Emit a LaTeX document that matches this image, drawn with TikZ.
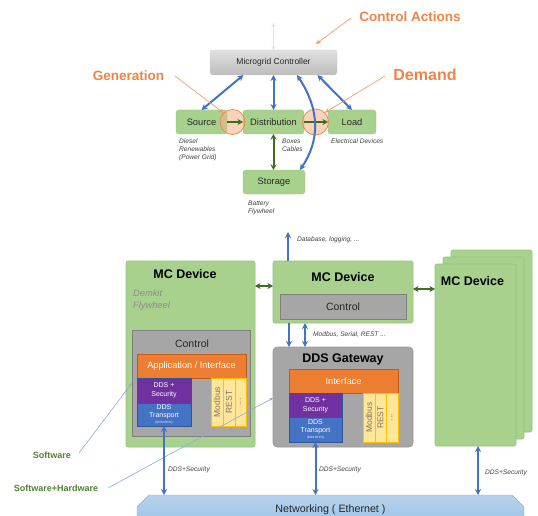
\documentclass[tikz,border=0pt]{standalone}
\usepackage{fontspec}
\setmainfont{Liberation Sans}
\usetikzlibrary{arrows.meta,shapes.misc}

\definecolor{gfill}{HTML}{A9D18E}
\definecolor{gdraw}{HTML}{93C47D}
\definecolor{grayfill}{HTML}{A6A6A6}
\definecolor{graydraw}{HTML}{7F7F7F}
\definecolor{orfill}{HTML}{ED7D31}
\definecolor{ordraw}{HTML}{C55A11}
\definecolor{purfill}{HTML}{7030A0}
\definecolor{blufill}{HTML}{4472C4}
\definecolor{bludraw}{HTML}{2F5597}
\definecolor{yelfill}{HTML}{FFE699}
\definecolor{yeldraw}{HTML}{FFC000}
\definecolor{yeltext}{HTML}{7F7560}
\definecolor{arrblue}{HTML}{4472C4}
\definecolor{arrgreen}{HTML}{3F6B22}
\definecolor{annorange}{HTML}{EE8547}
\definecolor{linkorange}{HTML}{F4B183}
\definecolor{hwgreen}{HTML}{548235}
\definecolor{faintblue}{HTML}{DAE3F3}
\definecolor{thinblue}{HTML}{8FAADC}
\definecolor{textdark}{HTML}{262626}
\definecolor{notegray}{HTML}{404040}
\definecolor{netdraw}{HTML}{9DC3E6}

\tikzset{
  box/.style={rectangle, inner sep=0pt, outer sep=0pt},
  greenbox/.style={box, fill=gfill, draw=gdraw, line width=0.6pt, rounded corners=2pt},
  graybox/.style={box, fill=grayfill, draw=graydraw, line width=0.6pt},
  orangebox/.style={box, fill=orfill, draw=ordraw, line width=0.5pt, text=white},
  purplebox/.style={box, fill=purfill, draw=bludraw, line width=0.5pt, text=white, align=center},
  bluebox/.style={box, fill=blufill, draw=bludraw, line width=0.5pt, text=white, align=center},
  yellowbox/.style={box, fill=yelfill, draw=yeldraw, line width=0.5pt, text=yeltext},
  flowbox/.style={box, fill=gfill, draw=gdraw, line width=0.4pt, rounded corners=3pt, text=textdark,
    font=\fontsize{9.3}{10}\selectfont},
  joint/.style={circle, inner sep=0pt, fill=linkorange, fill opacity=0.55, draw=annorange, line width=0.7pt},
  note/.style={font=\fontsize{6.6}{8}\itshape, text=notegray, align=left, inner sep=0pt},
  headline/.style={font=\fontsize{12.5}{14}\bfseries\selectfont, text=black, inner sep=0pt},
  annot/.style={font=\fontsize{13.5}{15}\bfseries\selectfont, text=annorange, inner sep=0pt},
  hwlabel/.style={font=\fontsize{9}{10}\bfseries\selectfont, text=hwgreen, inner sep=0pt},
  bluearr/.style={draw=arrblue, line width=2pt,
    {Stealth[length=6pt,width=6pt]}-{Stealth[length=6pt,width=6pt]}},
  bluetip/.style={draw=arrblue, line width=2pt, -{Stealth[length=6pt,width=6pt]}},
  greenarr/.style={draw=arrgreen, line width=2pt,
    {Stealth[length=5.5pt,width=6pt]}-{Stealth[length=5.5pt,width=6pt]}},
  greentip/.style={draw=arrgreen, line width=2pt, -{Stealth[length=5.5pt,width=6pt]}},
  orangetip/.style={draw=annorange!80, line width=0.7pt, -{Stealth[length=5pt,width=4.5pt]}},
  thintip/.style={draw=thinblue, line width=0.6pt, -{Stealth[length=3.5pt,width=3pt]}},
}

\begin{document}
\begin{tikzpicture}[x=1pt,y=-1pt]
\useasboundingbox[fill=white] (0,0) rectangle (538,516);

% ---------------- power flow overview ----------------
\node[box, rounded corners=3pt, top color=black!12, bottom color=black!26, draw=black!18,
      minimum width=127, minimum height=25, text=textdark,
      font=\fontsize{8.5}{10}\selectfont] (mgc) at (273.5,62.5) {Microgrid Controller};
\coordinate (mgcup) at (273.5,23);
\draw[draw=faintblue, line width=1.5pt,
      {Stealth[length=4pt,width=4pt]}-{Stealth[length=4pt,width=4pt]}] (mgc.north) -- (mgcup);

\node[flowbox, minimum width=51, minimum height=24] (src) at (201.5,122) {Source};
\node[flowbox, minimum width=61, minimum height=24] (dist) at (273.5,122) {Distribution};
\node[flowbox, minimum width=48, minimum height=24] (ld) at (352,122) {Load};
\node[flowbox, minimum width=62, minimum height=24] (sto) at (274,182) {Storage};

\node[joint, minimum size=25] (c1) at (232.5,122) {};
\node[joint, minimum size=26] (c2) at (315.5,122) {};

\draw[greentip] (src.east) -- (dist.west);
\draw[greentip] (dist.east) -- (ld.west);
\draw[greenarr] (dist.south) -- (sto.north -| dist.south);

\draw[bluearr] (src.north) -- ([xshift=-30]mgc.south);
\draw[bluearr] (dist.north) -- (dist.north |- mgc.south);
\draw[bluearr] (ld.north) -- ([xshift=44]mgc.south);
\draw[bluearr] ([xshift=23.5]mgc.south) .. controls (320,110) and (320,140) .. ([xshift=-5]sto.north east);

\node[note, anchor=north west] (srcnote) at (179,139) {Diesel\\Renewables\\(Power Grid)};
\node[note, anchor=north west] (distnote) at (282,139) {Boxes\\Cables};
\node[note, anchor=north west] (ldnote) at (331,139) {Electrical Devices};
\node[note, anchor=north west] (stonote) at (248,201) {Battery\\Flywheel};

\node[annot] (ctlact) at (410,17) {Control Actions};
\node[annot] (gen) at (128.5,76) {Generation};
\node[annot, font=\fontsize{16}{18}\bfseries\selectfont] (dem) at (425,75) {Demand};
\coordinate (ctlactA) at (351,18);
\coordinate (ctlactB) at (316,44);
\coordinate (genA) at (175,76);
\coordinate (demA) at (385,76);
\draw[orangetip] (ctlactA) -- (ctlactB);
\draw[orangetip] (genA) -- (c1.north west);
\draw[orangetip] (demA) -- (c2.north east);

% ---------------- device stack: green shells ----------------
\node[greenbox, minimum width=129, minimum height=186] (mc1) at (190.5,354) {};
\node[greenbox, minimum width=140, minimum height=62] (mc2) at (343,292) {};
\node[greenbox, minimum width=81, minimum height=182] (mc3c) at (491.5,341) {};
\node[greenbox, minimum width=81, minimum height=182] (mc3b) at (483.5,348) {};
\node[greenbox, minimum width=81, minimum height=182] (mc3f) at (475.5,355) {};

\node[headline] (mc1t) at (185,274) {MC Device};
\node[headline] (mc2t) at (343,277) {MC Device};
\node[headline] (mc3t) at (472.5,281) {MC Device};
\node[font=\fontsize{9.3}{12}\itshape, text=black!45, align=left, inner sep=0pt, anchor=west]
  (mc1note) at (133,300) {Demkit\\Flywheel};

% pointers from the side labels (pass under the gray blocks)
\node[hwlabel] (sw) at (52,455) {Software};
\node[hwlabel] (swhw) at (56,488) {Software+Hardware};
\coordinate (swA) at (79,453);
\coordinate (swhwA) at (108,488);

% ---------------- left device ----------------
\node[graybox, minimum width=118, minimum height=106] (ctl1) at (191,383) {};
\node[font=\fontsize{10.5}{12}\selectfont, text=textdark, inner sep=0pt] (ctl1t) at (192,344) {Control};
\node[orangebox, minimum width=109, minimum height=24, font=\fontsize{9.2}{10}\selectfont]
  (app1) at (191.5,366) {Application / Interface};
\node[purplebox, minimum width=54, minimum height=25, font=\fontsize{7}{9}\selectfont]
  (sec1) at (164,390.5) {DDS +\\Security};
\node[bluebox, minimum width=54, minimum height=23, font=\fontsize{7}{8}\selectfont]
  (dt1) at (164,414.5) {DDS\\Transport\\[-2pt]{\fontsize{3}{3}\selectfont (DDS RTPS)}};
\node[yellowbox, minimum width=12, minimum height=48] (mb1) at (217,402) {};
\node[yellowbox, minimum width=12, minimum height=48] (rs1) at (229,402) {};
\node[yellowbox, minimum width=11, minimum height=48] (dd1) at (240.5,402) {};
\node[rotate=90, text=yeltext, font=\fontsize{8.5}{9}\selectfont, inner sep=0pt] at (mb1.center) {Modbus};
\node[rotate=90, text=yeltext, font=\fontsize{8.5}{9}\selectfont, inner sep=0pt] at (rs1.center) {REST};
\node[rotate=90, text=yeltext, font=\fontsize{8.5}{9}\selectfont, inner sep=0pt] at (dd1.center) {...};

\draw[thintip] (swA) -- (ctl1.west);

% ---------------- middle device and gateway ----------------
\node[graybox, minimum width=126, minimum height=25, font=\fontsize{10.5}{12}\selectfont, text=textdark]
  (ctl2) at (343,306.5) {Control};

\draw[thintip] (swhwA) -- (273,398);

\node[box, fill=grayfill, draw=black!40, line width=0.6pt, rounded corners=4pt,
      minimum width=140, minimum height=100] (gw) at (343,397) {};
\node[headline] (gwt) at (343,359) {DDS Gateway};
\node[orangebox, minimum width=109, minimum height=24, font=\fontsize{9.2}{10}\selectfont]
  (app2) at (343.5,381) {Interface};
\node[purplebox, minimum width=53, minimum height=24, font=\fontsize{7}{9}\selectfont]
  (sec2) at (315.5,405) {DDS +\\Security};
\node[bluebox, minimum width=53, minimum height=25, font=\fontsize{7}{8}\selectfont]
  (dt2) at (315.5,429.5) {DDS\\Transport\\[-2pt]{\fontsize{3}{3}\selectfont (DDS RTPS)}};
\node[yellowbox, minimum width=12, minimum height=49] (mb2) at (369,417.5) {};
\node[yellowbox, minimum width=11, minimum height=49] (rs2) at (380.5,417.5) {};
\node[yellowbox, minimum width=12, minimum height=49] (dd2) at (392,417.5) {};
\node[rotate=90, text=yeltext, font=\fontsize{8.5}{9}\selectfont, inner sep=0pt] at (mb2.center) {Modbus};
\node[rotate=90, text=yeltext, font=\fontsize{8.5}{9}\selectfont, inner sep=0pt] at (rs2.center) {REST};
\node[rotate=90, text=yeltext, font=\fontsize{8.5}{9}\selectfont, inner sep=0pt] at (dd2.center) {...};

% ---------------- links between devices ----------------
\coordinate (lkA) at (0,286);
\coordinate (lkB) at (0,289);
\draw[greenarr] (mc1.east |- lkA) -- (mc2.west |- lkA);
\draw[greenarr] (mc2.east |- lkB) -- (mc3f.west |- lkB);

\coordinate (dbtop) at (288,232);
\draw[bluetip] ([xshift=-55]mc2.north) -- (dbtop);
\node[note, anchor=west] (dbnote) at (297,240) {Database, logging, ...};

\draw[bluetip] ([xshift=-54]mc2.south) -- ([xshift=-54]gw.north);
\draw[bluearr] ([xshift=-38]mc2.south) -- ([xshift=-38]gw.north);
\node[note, anchor=west] (busnote) at (313,335) {Modbus, Serial, REST ...};

% ---------------- network ----------------
\node[chamfered rectangle, chamfered rectangle corners={north west,north east},
      chamfered rectangle xsep=7pt, chamfered rectangle ysep=7pt,
      inner sep=0pt, outer sep=0pt, minimum width=387, minimum height=30,
      top color=netdraw!75, bottom color=netdraw, draw=netdraw!90!black, line width=0.4pt,
      text=textdark, font=\fontsize{10.7}{12}\selectfont] (net) at (330.5,510)
      {\raisebox{1pt}{Networking ( Ethernet )}};

\draw[bluearr] (dt1.south) -- (dt1.south |- net.north);
\draw[bluearr] (dt2.south) -- (dt2.south |- net.north);
\draw[bluearr] ([xshift=2.5]mc3f.south) -- ([xshift=2.5]mc3f.south |- net.north);

\node[note, anchor=west] (dds1) at (168,470) {DDS+Security};
\node[note, anchor=west] (dds2) at (319,470) {DDS+Security};
\node[note, anchor=west] (dds3) at (485,473) {DDS+Security};
\end{tikzpicture}
\end{document}
